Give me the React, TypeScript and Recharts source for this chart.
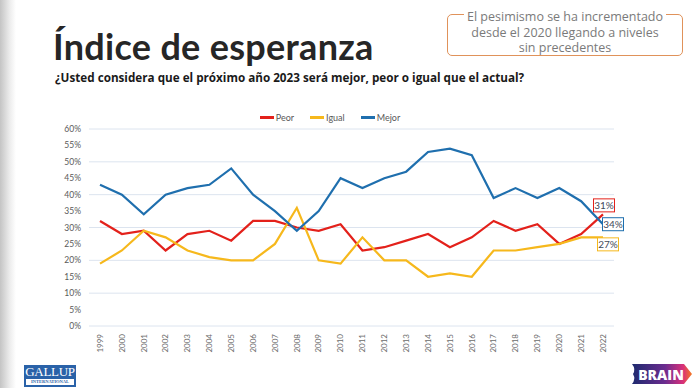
import React from 'react';
import { LineChart, Line, XAxis, YAxis, CartesianGrid, Legend, LabelList } from 'recharts';

const years = [
  '1999', '2000', '2001', '2002', '2003', '2004', '2005', '2006', '2007', '2008', '2009', '2010',
  '2011', '2012', '2013', '2014', '2015', '2016', '2017', '2018', '2019', '2020', '2021', '2022',
];
const peor = [32, 28, 29, 23, 28, 29, 26, 32, 32, 30, 29, 31, 23, 24, 26, 28, 24, 27, 32, 29, 31, 25, 28, 34];
const igual = [19, 23, 29, 27, 23, 21, 20, 20, 25, 36, 20, 19, 27, 20, 20, 15, 16, 15, 23, 23, 24, 25, 27, 27];
const mejor = [43, 40, 34, 40, 42, 43, 48, 40, 35, 29, 35, 45, 42, 45, 47, 53, 54, 52, 39, 42, 39, 42, 38, 31];
const yTicks = [0, 5, 10, 15, 20, 25, 30, 35, 40, 45, 50, 55, 60];
const seriesOrder = ['Peor', 'Igual', 'Mejor'];

// texts of the boxes at the end of each line, as printed on the slide
const endLabelPeor = '31%';
const endLabelMejor = '34%';
const endLabelIgual = '27%';

const data = years.map((year, i) => ({ year, Peor: peor[i], Igual: igual[i], Mejor: mejor[i] }));

const RED = '#e3211b';
const YELLOW = '#f6b81c';
const BLUE = '#1f6fae';
const FONT = 'Lato, "Open Sans", sans-serif';

const XTick = (props: any) => {
  const { x, y, payload } = props;
  return (
    <text
      x={x}
      y={y}
      transform={`rotate(-90, ${x}, ${y})`}
      textAnchor="end"
      dy="0.35em"
      fontSize={8}
      fill="#6b6b6b"
      fontFamily={FONT}
    >
      {payload.value}
    </text>
  );
};

const makeEndLabel = (text: string, color: string, dx: number, dy: number) => (props: any) => {
  const { x, y, index } = props;
  if (index !== years.length - 1) return null;
  const w = 21;
  const h = 13;
  const cx = x + dx;
  const cy = y + dy;
  return (
    <g>
      <rect x={cx - w / 2} y={cy - h / 2} width={w} height={h} fill="#fff" stroke={color} strokeWidth={1} />
      <text x={cx} y={cy} dy="0.35em" textAnchor="middle" fontSize={10} fill="#3f4a5a" fontFamily={FONT}>
        {text}
      </text>
    </g>
  );
};

const LegendContent = (props: any) => {
  const items = [...(props.payload || [])].sort(
    (a: any, b: any) => seriesOrder.indexOf(a.value) - seriesOrder.indexOf(b.value),
  );
  return (
    <div style={{ display: 'flex', justifyContent: 'center', gap: 16, fontSize: 9, color: '#595959', fontFamily: FONT }}>
      {items.map((p: any) => (
        <div key={p.value} style={{ display: 'flex', alignItems: 'center' }}>
          <span style={{ display: 'inline-block', width: 14, height: 2.5, background: p.color, marginRight: 2 }} />
          {p.value}
        </div>
      ))}
    </div>
  );
};

const App = () => {
  return (
    <div
      style={{
        position: 'absolute',
        left: 0,
        top: 0,
        width: 700,
        height: 388,
        background: '#fff',
        overflow: 'hidden',
        fontFamily: FONT,
      }}
    >
      {/* left page shadow */}
      <div
        style={{
          position: 'absolute',
          left: 0,
          top: 0,
          width: 16,
          height: 388,
          background: 'linear-gradient(to right, #c4c4c4, #ececec 60%, #ffffff)',
        }}
      />
      <div
        style={{
          position: 'absolute',
          left: 53,
          top: 24,
          fontSize: 36,
          fontWeight: 700,
          color: '#262626',
          whiteSpace: 'nowrap',
          letterSpacing: 0.3,
        }}
      >
        Índice de esperanza
      </div>
      <div
        style={{
          position: 'absolute',
          left: 55,
          top: 69,
          fontSize: 11.7,
          fontWeight: 700,
          color: '#1a1a1a',
          whiteSpace: 'nowrap',
          fontFamily: '"Open Sans", sans-serif',
        }}
      >
        ¿Usted considera que el próximo año 2023 será mejor, peor o igual que el actual?
      </div>
      <div
        style={{
          position: 'absolute',
          left: 447,
          top: 14,
          width: 234,
          height: 40,
          border: '1px solid #e0925a',
          borderRadius: 5,
        }}
      />
      <div
        style={{
          position: 'absolute',
          left: 447,
          top: 9,
          width: 236,
          textAlign: 'center',
          fontSize: 12.5,
          lineHeight: '15.5px',
          color: '#7a7a7a',
          fontFamily: '"Open Sans", sans-serif',
        }}
      >
        <span style={{ background: '#fff', padding: '0 3px' }}>El pesimismo se ha incrementado</span>
        <br />
        desde el 2020 llegando a niveles
        <br />
        sin precedentes
      </div>

      <div style={{ position: 'absolute', left: 0, top: 0 }}>
        <LineChart width={700} height={388} data={data} margin={{ top: 129, right: 86, bottom: 28, left: 39 }}>
          <CartesianGrid vertical={false} stroke="#dce4ef" />
          <XAxis
            dataKey="year"
            interval={0}
            padding={{ left: 11, right: 11 }}
            axisLine={false}
            tickLine={false}
            tick={<XTick />}
            height={34}
            tickMargin={2}
          />
          <YAxis
            domain={[0, 60]}
            ticks={yTicks}
            tickFormatter={(v: number) => `${v}%`}
            axisLine={false}
            tickLine={false}
            width={50}
            tick={{ fontSize: 8.5, fill: '#5a5a5a', fontFamily: FONT }}
          />
          <Legend
            layout="horizontal"
            verticalAlign="middle"
            align="center"
            content={<LegendContent />}
            wrapperStyle={{ top: 112, left: 230, width: 200 }}
          />
          <Line dataKey="Peor" stroke={RED} strokeWidth={2.2} dot={false} isAnimationActive={false}>
            <LabelList dataKey="Peor" content={makeEndLabel(endLabelPeor, RED, 1, -9)} />
          </Line>
          <Line dataKey="Igual" stroke={YELLOW} strokeWidth={2.2} dot={false} isAnimationActive={false}>
            <LabelList dataKey="Igual" content={makeEndLabel(endLabelIgual, YELLOW, 5, 7)} />
          </Line>
          <Line dataKey="Mejor" stroke={BLUE} strokeWidth={2.2} dot={false} isAnimationActive={false}>
            <LabelList dataKey="Mejor" content={makeEndLabel(endLabelMejor, BLUE, 10, 0)} />
          </Line>
        </LineChart>
      </div>

      {/* Gallup International logo */}
      <div
        style={{
          position: 'absolute',
          left: 24,
          top: 365,
          width: 52,
          height: 22,
          background: '#2a62a8',
          color: '#fff',
          textAlign: 'center',
          fontFamily: '"Liberation Serif", serif',
        }}
      >
        <div style={{ fontSize: 13, lineHeight: '14px', letterSpacing: -0.3 }}>GALLUP</div>
        <div style={{ fontSize: 4.5, lineHeight: '6px', fontWeight: 700, background: '#fff', color: '#2a62a8', margin: '0 2px' }}>
          INTERNATIONAL
        </div>
      </div>

      {/* BRAIN logo */}
      <svg style={{ position: 'absolute', left: 628, top: 362 }} width={66} height={24}>
        <defs>
          <linearGradient id="brainGrad" x1="0" x2="1" y1="0" y2="0">
            <stop offset="0" stopColor="#1d2a6e" />
            <stop offset="0.55" stopColor="#6b2c8f" />
            <stop offset="0.85" stopColor="#d8307a" />
            <stop offset="1" stopColor="#f47a20" />
          </linearGradient>
        </defs>
        <path d="M4 2 L56 2 L64 12 L56 22 L4 22 Q8 17 5 12 Q8 7 4 2 Z" fill="url(#brainGrad)" />
        <text x={33} y={17.5} textAnchor="middle" fontSize={14} fontWeight={800} fill="#fff" fontFamily='"Open Sans", sans-serif'>
          BRAIN
        </text>
      </svg>
    </div>
  );
};

export default App;
